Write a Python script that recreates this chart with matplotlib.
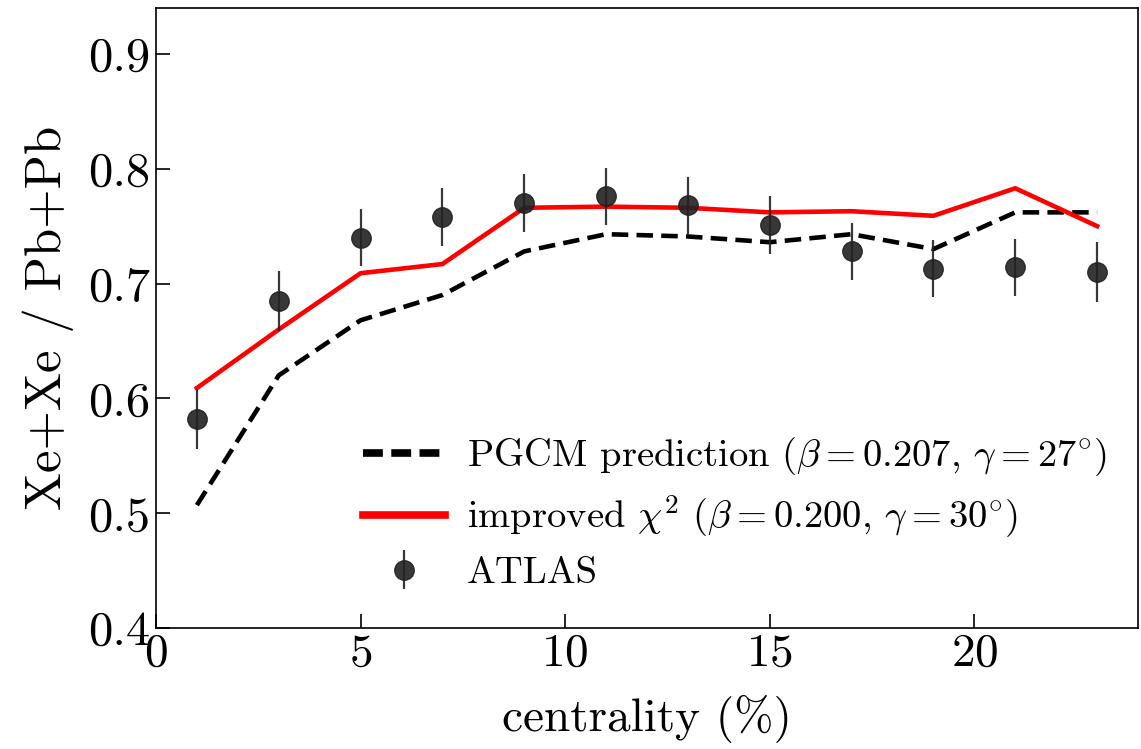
import numpy as np
import matplotlib
matplotlib.use("Agg")
import matplotlib.pyplot as plt

matplotlib.rcParams["font.family"] = "serif"
matplotlib.rcParams["font.serif"] = ["cmr10"]
matplotlib.rcParams["mathtext.fontset"] = "cm"
matplotlib.rcParams["axes.unicode_minus"] = False
matplotlib.rcParams["axes.formatter.use_mathtext"] = True

# 中心度 (%)
centrality = [1, 3, 5, 7, 9, 11, 13, 15, 17, 19, 21, 23]

# ATLAS 数据
atlas_ratio = [0.582, 0.685, 0.740, 0.758, 0.770, 0.776, 0.768, 0.751, 0.728, 0.713, 0.714, 0.710]
atlas_err = [0.026, 0.026, 0.025, 0.025, 0.025, 0.025, 0.025, 0.025, 0.025, 0.025, 0.025, 0.026]

# PGCM 预测
pgcm_ratio = [0.507, 0.620, 0.668, 0.690, 0.728, 0.743, 0.741, 0.736, 0.743, 0.730, 0.762, 0.762]

# improved chi^2
chi2_ratio = [0.609, 0.660, 0.709, 0.717, 0.766, 0.767, 0.766, 0.762, 0.763, 0.759, 0.783, 0.750]

fig = plt.figure(figsize=(11.41, 7.49), dpi=100)
ax = fig.add_axes([0.1367, 0.1616, 0.8607, 0.8277])

ax.plot(centrality, pgcm_ratio, color="black", linestyle=(0, (3.6, 1.8)), linewidth=3.3,
        label=r"PGCM prediction ($\beta = 0.207$, $\gamma = 27^{\circ}$)")
ax.plot(centrality, chi2_ratio, color="red", linewidth=3.3,
        label=r"improved $\chi^2$ ($\beta = 0.200$, $\gamma = 30^{\circ}$)")
ax.errorbar(centrality, atlas_ratio, yerr=atlas_err, fmt="o", color="#222222", alpha=0.9,
            markersize=14, elinewidth=1.6, capsize=0, label="ATLAS")

ax.set_xlim(0, 24)
ax.set_ylim(0.4, 0.94)
ax.set_xticks([0, 5, 10, 15, 20])
ax.set_yticks([0.4, 0.5, 0.6, 0.7, 0.8, 0.9])
ax.set_yticklabels(["0.4", "0.5", "0.6", "0.7", "0.8", "0.9"])
ax.tick_params(direction="in", length=10, width=1.2, labelsize=34, pad=4)
ax.tick_params(axis="y", labelsize=35)
for s in ax.spines.values():
    s.set_linewidth(1.2)

ax.set_xlabel("centrality (%)", fontsize=34, labelpad=14)
ax.set_ylabel("Xe+Xe / Pb+Pb", fontsize=36.5, labelpad=10)

leg = ax.legend(loc="lower right", frameon=False, fontsize=27.8, handlelength=2.1,
                handletextpad=0.57, labelspacing=0.4, bbox_to_anchor=(1.003, 0.005))
# 图例线条更粗
leg_lines = leg.get_lines()
leg_lines[0].set_linewidth(5.5)
leg_lines[0].set_linestyle((0, (2.6, 1.1)))
leg_lines[1].set_linewidth(5.5)

fig.savefig("out.png", dpi=100)
